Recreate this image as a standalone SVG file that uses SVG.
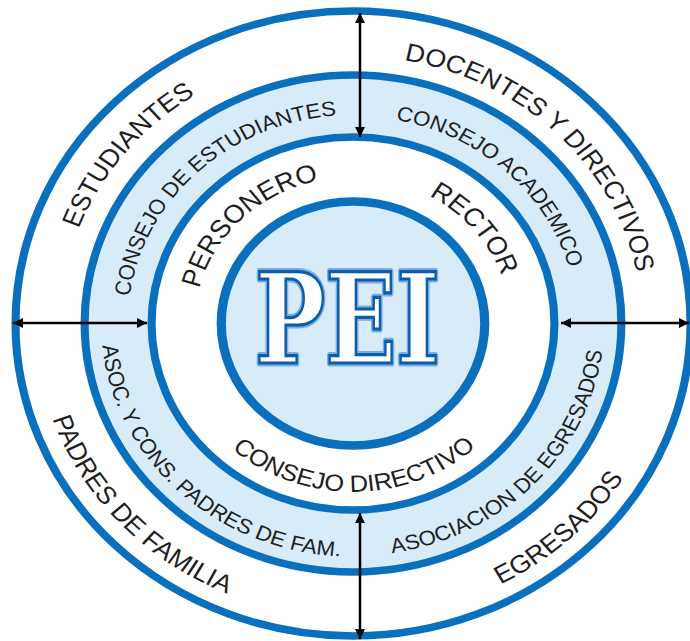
<svg xmlns="http://www.w3.org/2000/svg" width="690" height="641" viewBox="0 0 690 641">
<style>
.ring{stroke:#0a70be;stroke-width:7.5}
.lt{fill:#d8ebf9}
.wh{fill:#ffffff}
.lbl{font-family:"Liberation Sans",Arial,sans-serif;fill:#1e1e1e}
.o{font-size:25px}
.m{font-size:20.7px}
.i{font-size:25.5px}
.conn{stroke:#000;stroke-width:2.5;fill:none;marker-start:url(#ah);marker-end:url(#ah)}
.pei{font-family:"DejaVu Serif","Liberation Serif",serif;font-weight:bold;font-size:125px}
</style>
<defs>
<marker id="ah" viewBox="0 0 10 10" refX="10" refY="5" markerWidth="5" markerHeight="4" orient="auto-start-reverse" markerUnits="strokeWidth">
<path d="M0,0 L10,5 L0,10 z" fill="#000"/>
</marker>
<path id="p1" d="M -204.4 178 A 271 271 0 0 1 131.2 -237.1"/>
<path id="p2" d="M -155 -218 A 267.5 267.5 0 0 1 220.2 151.9"/>
<path id="p3" d="M -234 -178 A 294 294 0 0 0 159.1 247.3"/>
<path id="p4" d="M -177.4 235.4 A 294.8 294.8 0 0 0 247.2 -160.5"/>
<path id="p5" d="M -174.2 114.7 A 208.6 208.6 0 0 1 124.5 -167.4"/>
<path id="p6" d="M -125.7 -165.1 A 207.5 207.5 0 0 1 174.6 112.1"/>
<path id="p7" d="M -193.9 -129.3 A 233 233 0 0 0 137.9 187.8"/>
<path id="p8" d="M -129.6 192.9 A 232.4 232.4 0 0 0 187.8 -136.9"/>
<path id="p9" d="M -120.9 82.5 A 146.3 146.3 0 0 1 85.4 -118.8"/>
<path id="p10" d="M -73.2 -126 A 145.7 145.7 0 0 1 111.8 93.4"/>
<path id="p11" d="M -165.3 30.3 A 168 168 0 0 0 165.7 28"/>
</defs>
<rect width="690" height="641" fill="#ffffff"/>
<g transform="translate(353 323.5) scale(1.08 1)">
<g id="rings">
<circle class="ring wh" r="312.5"/>
<circle class="ring lt" r="248.5"/>
<circle class="ring wh" r="186.5"/>
<circle class="ring lt" r="122" style="stroke-width:8.5"/>
</g>
<g id="estudiantes"><text class="lbl o"><textPath href="#p1" startOffset="50%" text-anchor="middle">ESTUDIANTES</textPath></text></g>
<g id="docentes"><text class="lbl o"><textPath href="#p2" startOffset="50%" text-anchor="middle">DOCENTES Y DIRECTIVOS</textPath></text></g>
<g id="padres"><text class="lbl o"><textPath href="#p3" startOffset="50%" text-anchor="middle">PADRES DE FAMILIA</textPath></text></g>
<g id="egresados"><text class="lbl o"><textPath href="#p4" startOffset="50%" text-anchor="middle">EGRESADOS</textPath></text></g>
<g id="consejo-estudiantes"><text class="lbl m"><textPath href="#p5" startOffset="50%" text-anchor="middle">CONSEJO DE ESTUDIANTES</textPath></text></g>
<g id="consejo-academico"><text class="lbl m"><textPath href="#p6" startOffset="50%" text-anchor="middle">CONSEJO ACADEMICO</textPath></text></g>
<g id="asoc-padres"><text class="lbl m"><textPath href="#p7" startOffset="50%" text-anchor="middle">ASOC. Y CONS. PADRES DE FAM.</textPath></text></g>
<g id="asoc-egresados"><text class="lbl m"><textPath href="#p8" startOffset="50%" text-anchor="middle">ASOCIACION DE EGRESADOS</textPath></text></g>
<g id="personero"><text class="lbl i"><textPath href="#p9" startOffset="50%" text-anchor="middle">PERSONERO</textPath></text></g>
<g id="rector"><text class="lbl i"><textPath href="#p10" startOffset="50%" text-anchor="middle">RECTOR</textPath></text></g>
<g id="consejo-directivo"><text class="lbl" style="font-size:23.5px"><textPath href="#p11" startOffset="50%" text-anchor="middle">CONSEJO DIRECTIVO</textPath></text></g>
</g>
<g id="pei">
<text class="pei" x="255" y="363" textLength="185" lengthAdjust="spacingAndGlyphs" fill="#ffffff" stroke="#7aaedf" stroke-width="7" stroke-linejoin="round">PEI</text>
<text class="pei" x="255" y="363" textLength="185" lengthAdjust="spacingAndGlyphs" fill="#ffffff" stroke="#0b5cad" stroke-width="3.2" stroke-linejoin="miter">PEI</text>
</g>
<g id="connectors">
<line class="conn" x1="360" y1="13" x2="360" y2="137"/>
<line class="conn" x1="360" y1="513" x2="360" y2="639"/>
<line class="conn" x1="13" y1="323" x2="147" y2="323"/>
<line class="conn" x1="561" y1="323" x2="689" y2="323"/>
</g>
</svg>
